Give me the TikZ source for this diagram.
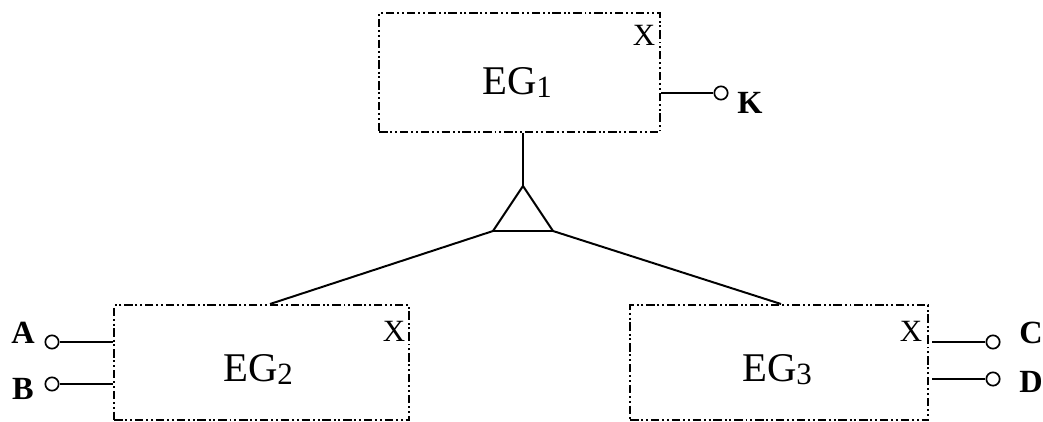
\documentclass[tikz,border=0pt]{standalone}
\usepackage{fontspec}
\setmainfont{Liberation Serif}
\usetikzlibrary{positioning}
\newcommand{\egsub}[1]{\raisebox{-2.8pt}{\fontsize{22}{22}\selectfont #1}}
\tikzset{
  egbox/.style={draw, line width=1.7pt, inner sep=0pt, anchor=north west,
    dash pattern=on 6pt off 2pt on 1.4pt off 2pt on 1.4pt off 2pt},
  egname/.style={font=\fontsize{29}{34}\selectfont, inner sep=0pt, anchor=base},
  xmark/.style={font=\fontsize{22}{24}\selectfont, inner sep=0pt},
  pin/.style={draw, circle, line width=1.2pt, minimum size=9.5pt, inner sep=0pt},
  pinname/.style={font=\fontsize{23}{26}\selectfont\bfseries, inner sep=0pt},
  wire/.style={line width=1.4pt}
}

\begin{document}
\begin{tikzpicture}[x=0.025cm, y=-0.025cm]
    \useasboundingbox (0,0) rectangle (1043,421);

    % boxes
    \node[egbox, minimum width=7.025cm, minimum height=2.975cm] (eg1) at (378,12) {};
    \node[egbox, minimum width=7.375cm, minimum height=2.875cm] (eg2) at (113,304) {};
    \node[egbox, minimum width=7.45cm, minimum height=2.875cm] (eg3) at (629,304) {};

    \node[egname] (n1) at (517,94) {EG\egsub{1}};
    \node[egname] (n2) at (258,381) {EG\egsub{2}};
    \node[egname] (n3) at (777,381) {EG\egsub{3}};
    \node[xmark] (x1) at (644,35) {X};
    \node[xmark] (x2) at (394,331) {X};
    \node[xmark] (x3) at (911,331) {X};

    % triangle
    \coordinate (top) at (523,186);
    \coordinate (left) at (493,231);
    \coordinate (right) at (553,231);
    \draw[wire, line join=miter] (top) -- (left) -- (right) -- cycle;
    \draw[wire] (eg1.south -| top) -- (top);
    \coordinate (in2) at (270,304);
    \coordinate (in3) at (781,304);
    \draw[wire] (left) -- (in2);
    \draw[wire] (right) -- (in3);

    % pins
    \node[pin] (k) at (721,93) {};
    \node[pin] (a) at (52,342) {};
    \node[pin] (b) at (52,384) {};
    \node[pin] (c) at (993,342) {};
    \node[pin] (d) at (993,379) {};
    \draw[wire] (k.west) -- (k.west -| eg1.east);
    \draw[wire] (a.east) -- (a.east -| eg2.west);
    \draw[wire] (b.east) -- (b.east -| eg2.west);
    \draw[wire] (c.west) -- ([xshift=2pt]c.west -| eg3.east);
    \draw[wire] (d.west) -- ([xshift=2pt]d.west -| eg3.east);

    \node[pinname] (kl) at (750,103) {K};
    \node[pinname] (al) at (23,333) {A};
    \node[pinname] (bl) at (23,389) {B};
    \node[pinname] (cl) at (1031,333) {C};
    \node[pinname] (dl) at (1031,382) {D};
\end{tikzpicture}
\end{document}
